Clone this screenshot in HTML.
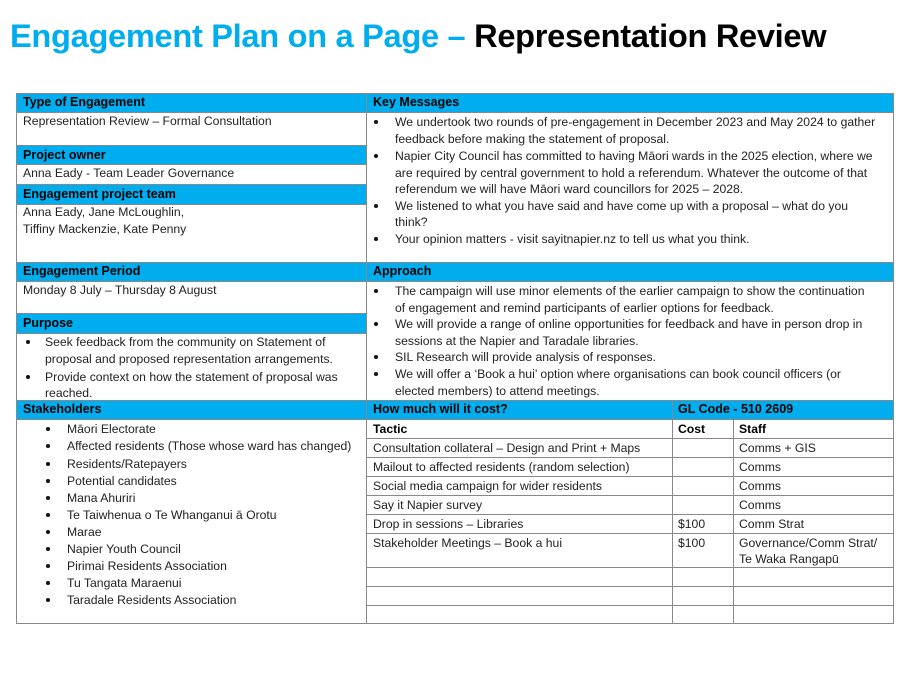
<!DOCTYPE html>
<html><head><meta charset="utf-8"><style>
body{margin:0;width:909px;height:690px;background:#fff;position:relative;overflow:hidden;font-family:"Liberation Sans",sans-serif;}
.t{position:absolute;white-space:nowrap;font-size:12.2px;line-height:16px;height:16px;color:#222;}
.h{position:absolute;background:#00aeef;}
.hb{font-weight:bold;color:#000;font-size:12.5px}
.l{position:absolute;background:#888;}
.b{position:absolute;width:4px;height:4px;border-radius:50%;background:#111;}
</style></head><body>
<div class="t" style="left:10px;top:16px;height:40px;line-height:40px;font-size:32.6px;font-weight:bold;letter-spacing:-0.3px"><span style="color:#00aeef">Engagement Plan on a Page –</span> <span style="color:#000">Representation Review</span></div>

<div class="h" style="left:17px;top:94px;width:876px;height:18px"></div>
<div class="h" style="left:17px;top:146px;width:349px;height:18px"></div>
<div class="h" style="left:17px;top:185px;width:349px;height:19px"></div>
<div class="h" style="left:17px;top:262px;width:876px;height:19px"></div>
<div class="h" style="left:17px;top:314px;width:349px;height:19px"></div>
<div class="h" style="left:17px;top:400px;width:876px;height:19px"></div>

<div class="l" style="left:16px;top:93px;width:878px;height:1px"></div>
<div class="l" style="left:16px;top:623px;width:878px;height:1px"></div>
<div class="l" style="left:16px;top:93px;width:1px;height:531px"></div>
<div class="l" style="left:893px;top:93px;width:1px;height:531px"></div>
<div class="l" style="left:366px;top:93px;width:1px;height:531px"></div>
<div class="l" style="left:17px;top:112px;width:876px;height:1px"></div>
<div class="l" style="left:17px;top:145px;width:349px;height:1px"></div>
<div class="l" style="left:17px;top:164px;width:349px;height:1px"></div>
<div class="l" style="left:17px;top:184px;width:349px;height:1px"></div>
<div class="l" style="left:17px;top:204px;width:349px;height:1px"></div>
<div class="l" style="left:17px;top:262px;width:876px;height:1px"></div>
<div class="l" style="left:17px;top:281px;width:876px;height:1px"></div>
<div class="l" style="left:17px;top:313px;width:349px;height:1px"></div>
<div class="l" style="left:17px;top:333px;width:349px;height:1px"></div>
<div class="l" style="left:17px;top:400px;width:876px;height:1px"></div>
<div class="l" style="left:17px;top:419px;width:876px;height:1px"></div>
<div class="l" style="left:672px;top:400px;width:1px;height:223px"></div>
<div class="l" style="left:733px;top:419px;width:1px;height:204px"></div>
<div class="l" style="left:367px;top:438px;width:526px;height:1px"></div>
<div class="l" style="left:367px;top:457px;width:526px;height:1px"></div>
<div class="l" style="left:367px;top:476px;width:526px;height:1px"></div>
<div class="l" style="left:367px;top:495px;width:526px;height:1px"></div>
<div class="l" style="left:367px;top:514px;width:526px;height:1px"></div>
<div class="l" style="left:367px;top:533px;width:526px;height:1px"></div>
<div class="l" style="left:367px;top:567px;width:526px;height:1px"></div>
<div class="l" style="left:367px;top:586px;width:526px;height:1px"></div>
<div class="l" style="left:367px;top:605px;width:526px;height:1px"></div>

<div class="t hb" style="left:23px;top:94px">Type of Engagement</div>
<div class="t" style="left:23px;top:113px">Representation Review – Formal Consultation</div>
<div class="t hb" style="left:23px;top:147px">Project owner</div>
<div class="t" style="left:23px;top:165px">Anna Eady - Team Leader Governance</div>
<div class="t hb" style="left:23px;top:186px">Engagement project team</div>
<div class="t" style="left:23px;top:204px">Anna Eady, Jane McLoughlin,</div>
<div class="t" style="left:23px;top:221px">Tiffiny Mackenzie, Kate Penny</div>
<div class="t hb" style="left:23px;top:263px">Engagement Period</div>
<div class="t" style="left:23px;top:282px">Monday 8 July – Thursday 8 August</div>
<div class="t hb" style="left:23px;top:315px">Purpose</div>
<div class="b" style="left:26px;top:340px"></div>
<div class="t" style="left:45px;top:334px">Seek feedback from the community on Statement of</div>
<div class="t" style="left:45px;top:351px">proposal and proposed representation arrangements.</div>
<div class="b" style="left:26px;top:375px"></div>
<div class="t" style="left:45px;top:369px">Provide context on how the statement of proposal was</div>
<div class="t" style="left:45px;top:385px">reached.</div>
<div class="t hb" style="left:23px;top:401px">Stakeholders</div>
<div class="b" style="left:46px;top:427px"></div><div class="t" style="left:67px;top:421px">Māori Electorate</div>
<div class="b" style="left:46px;top:444px"></div><div class="t" style="left:67px;top:438px">Affected residents (Those whose ward has changed)</div>
<div class="b" style="left:46px;top:462px"></div><div class="t" style="left:67px;top:456px">Residents/Ratepayers</div>
<div class="b" style="left:46px;top:479px"></div><div class="t" style="left:67px;top:473px">Potential candidates</div>
<div class="b" style="left:46px;top:496px"></div><div class="t" style="left:67px;top:490px">Mana Ahuriri</div>
<div class="b" style="left:46px;top:513px"></div><div class="t" style="left:67px;top:507px">Te Taiwhenua o Te Whanganui ā Orotu</div>
<div class="b" style="left:46px;top:530px"></div><div class="t" style="left:67px;top:524px">Marae</div>
<div class="b" style="left:46px;top:547px"></div><div class="t" style="left:67px;top:541px">Napier Youth Council</div>
<div class="b" style="left:46px;top:564px"></div><div class="t" style="left:67px;top:558px">Pirimai Residents Association</div>
<div class="b" style="left:46px;top:581px"></div><div class="t" style="left:67px;top:575px">Tu Tangata Maraenui</div>
<div class="b" style="left:46px;top:598px"></div><div class="t" style="left:67px;top:592px">Taradale Residents Association</div>

<div class="t hb" style="left:373px;top:94px">Key Messages</div>
<div class="b" style="left:374px;top:120px"></div>
<div class="t" style="left:395px;top:114px">We undertook two rounds of pre-engagement in December 2023 and May 2024 to gather</div>
<div class="t" style="left:395px;top:131px">feedback before making the statement of proposal.</div>
<div class="b" style="left:374px;top:154px"></div>
<div class="t" style="left:395px;top:148px">Napier City Council has committed to having Māori wards in the 2025 election, where we</div>
<div class="t" style="left:395px;top:165px">are required by central government to hold a referendum. Whatever the outcome of that</div>
<div class="t" style="left:395px;top:181px">referendum we will have Māori ward councillors for 2025 – 2028.</div>
<div class="b" style="left:374px;top:204px"></div>
<div class="t" style="left:395px;top:198px">We listened to what you have said and have come up with a proposal – what do you</div>
<div class="t" style="left:395px;top:214px">think?</div>
<div class="b" style="left:374px;top:237px"></div>
<div class="t" style="left:395px;top:231px">Your opinion matters - visit sayitnapier.nz to tell us what you think.</div>

<div class="t hb" style="left:373px;top:263px">Approach</div>
<div class="b" style="left:374px;top:289px"></div>
<div class="t" style="left:395px;top:283px">The campaign will use minor elements of the earlier campaign to show the continuation</div>
<div class="t" style="left:395px;top:300px">of engagement and remind participants of earlier options for feedback.</div>
<div class="b" style="left:374px;top:322px"></div>
<div class="t" style="left:395px;top:316px">We will provide a range of online opportunities for feedback and have in person drop in</div>
<div class="t" style="left:395px;top:333px">sessions at the Napier and Taradale libraries.</div>
<div class="b" style="left:374px;top:355px"></div>
<div class="t" style="left:395px;top:349px">SIL Research will provide analysis of responses.</div>
<div class="b" style="left:374px;top:372px"></div>
<div class="t" style="left:395px;top:366px">We will offer a ‘Book a hui’ option where organisations can book council officers (or</div>
<div class="t" style="left:395px;top:383px">elected members) to attend meetings.</div>

<div class="t hb" style="left:373px;top:401px">How much will it cost?</div>
<div class="t hb" style="left:678px;top:401px">GL Code - 510 2609</div>
<div class="t" style="left:373px;top:421px;font-weight:bold;color:#000">Tactic</div>
<div class="t" style="left:678px;top:421px;font-weight:bold;color:#000">Cost</div>
<div class="t" style="left:739px;top:421px;font-weight:bold;color:#000">Staff</div>
<div class="t" style="left:373px;top:440px">Consultation collateral – Design and Print + Maps</div>
<div class="t" style="left:739px;top:440px">Comms + GIS</div>
<div class="t" style="left:373px;top:459px">Mailout to affected residents (random selection)</div>
<div class="t" style="left:739px;top:459px">Comms</div>
<div class="t" style="left:373px;top:478px">Social media campaign for wider residents</div>
<div class="t" style="left:739px;top:478px">Comms</div>
<div class="t" style="left:373px;top:497px">Say it Napier survey</div>
<div class="t" style="left:739px;top:497px">Comms</div>
<div class="t" style="left:373px;top:516px">Drop in sessions – Libraries</div>
<div class="t" style="left:678px;top:516px">$100</div>
<div class="t" style="left:739px;top:516px">Comm Strat</div>
<div class="t" style="left:373px;top:535px">Stakeholder Meetings – Book a hui</div>
<div class="t" style="left:678px;top:535px">$100</div>
<div class="t" style="left:739px;top:535px">Governance/Comm Strat/</div>
<div class="t" style="left:739px;top:551px">Te Waka Rangapū</div>
</body></html>
